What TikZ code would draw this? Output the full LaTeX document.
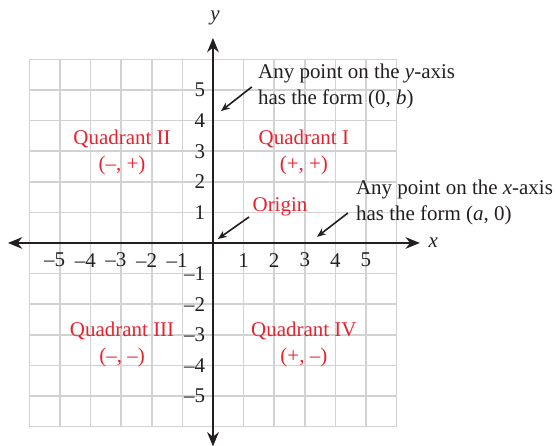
\documentclass[tikz,border=0pt]{standalone}
\usepackage{fontspec}
\setmainfont{Liberation Serif}
\usetikzlibrary{arrows.meta}
\definecolor{quadred}{RGB}{232,34,46}
\definecolor{gridgray}{RGB}{210,210,210}
\definecolor{axisblack}{RGB}{35,31,32}

\begin{document}
\begin{tikzpicture}[x=0.6cm,y=0.6cm,
    font=\fontsize{11.7}{14.5}\selectfont,
    axisline/.style={axisblack,line width=1.1pt,{Stealth[length=8pt,width=6.5pt]}-{Stealth[length=8pt,width=6.5pt]}},
    pointer/.style={axisblack,line width=0.9pt,-{Stealth[length=5pt,width=4pt]}},
    quadlabel/.style={quadred,align=center},
    note/.style={axisblack,align=left,anchor=west}]
    \useasboundingbox (-6.96,-6.62) rectangle (11.21,7.94);
    \draw[gridgray,line width=0.9pt,step={(1,1)}] (-6,-6) grid (6,6);
    % axes
    \coordinate (xl) at (-6.7,0);
    \coordinate (xr) at (6.76,0);
    \coordinate (yb) at (0,-6.65);
    \coordinate (yt) at (0,6.7);
    \draw[axisline] (xl) -- (xr);
    \draw[axisline] (yb) -- (yt);
    \node[axisblack] (xname) at (7.2,0) {\textit{x}};
    \node[axisblack] (yname) at (0.07,7.35) {\textit{y}};
    \foreach \n in {1,...,5}{
        \node[axisblack] (xp\n) at (\n,-0.56) {\n};
        \node[axisblack] (xm\n) at (-\n,-0.56) {\llap{–}\n};
        \node[axisblack,anchor=east] (yp\n) at (-0.05,\n) {\n};
        \node[axisblack,anchor=east] (ym\n) at (-0.05,-\n) {–\n};
    }
    % quadrants
    \node[quadlabel] (q1) at (2.97,2.97) {Quadrant I\\(+, +)};
    \node[quadlabel] (q2) at (-2.97,2.97) {Quadrant II\\(–, +)};
    \node[quadlabel] (q3) at (-2.97,-3.32) {Quadrant III\\(–, –)};
    \node[quadlabel] (q4) at (2.97,-3.32) {Quadrant IV\\(+, –)};
    % notes
    \node[quadred] (orig) at (2.19,1.18) {Origin};
    \node[note] (ynote) at (1.27,5.13) {Any point on the \textit{y}-axis\\has the form (0, \textit{b})};
    \node[note] (xnote) at (4.47,1.31) {Any point on the \textit{x}-axis\\has the form (\textit{a}, 0)};
    \coordinate (yfrom) at (1.27,5.10);
    \coordinate (yto) at (0.26,4.31);
    \coordinate (ofrom) at (1.18,0.85);
    \coordinate (oto) at (0.16,0.13);
    \coordinate (xfrom) at (4.41,0.98);
    \coordinate (xto) at (3.40,0.20);
    \draw[pointer] (yfrom) -- (yto);
    \draw[pointer] (ofrom) -- (oto);
    \draw[pointer] (xfrom) -- (xto);
\end{tikzpicture}
\end{document}
